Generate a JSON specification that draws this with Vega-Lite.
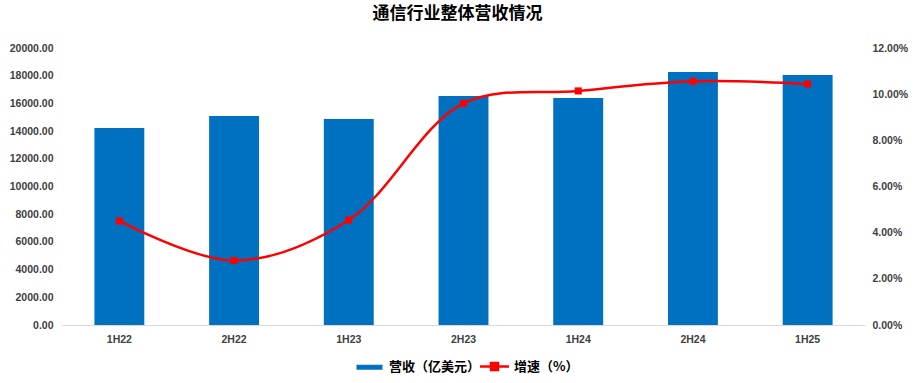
{
  "$schema": "https://vega.github.io/schema/vega-lite/v6.json",
  "autosize": {"type": "none"},
  "width": 803,
  "height": 277,
  "padding": {"left": 62, "top": 48, "right": 50, "bottom": 58},
  "background": "white",
  "title": {
    "text": "通信行业整体营收情况",
    "font": "Noto Sans CJK SC",
    "fontSize": 17,
    "fontWeight": "bold",
    "color": "#000000",
    "anchor": "middle",
    "dx": -6,
    "offset": 20
  },
  "config": {
    "view": {"stroke": null},
    "axis": {"labelFont": "Liberation Sans", "labelFontSize": 10.5, "labelFontWeight": "bold", "labelColor": "#404040", "grid": false, "ticks": false, "title": null}
  },
  "data": {
    "values": [
      {"period": "1H22", "revenue": 14220, "growth": 0.0451},
      {"period": "2H22", "revenue": 15090, "growth": 0.0279},
      {"period": "1H23", "revenue": 14870, "growth": 0.0455},
      {"period": "2H23", "revenue": 16530, "growth": 0.0960},
      {"period": "1H24", "revenue": 16390, "growth": 0.1014},
      {"period": "2H24", "revenue": 18270, "growth": 0.1056},
      {"period": "1H25", "revenue": 18050, "growth": 0.1044}
    ]
  },
  "encoding": {
    "x": {
      "field": "period",
      "type": "nominal",
      "sort": null,
      "scale": {"paddingInner": 0.565, "paddingOuter": 0.2825},
      "axis": {"labelAngle": 0, "domainColor": "#d9d9d9", "domainWidth": 1, "labelPadding": 9}
    }
  },
  "layer": [
    {
      "mark": {"type": "bar", "color": "#0070C0"},
      "encoding": {
        "y": {
          "field": "revenue",
          "type": "quantitative",
          "scale": {"domain": [0, 20000], "nice": false},
          "axis": {"orient": "left", "values": [0, 2000, 4000, 6000, 8000, 10000, 12000, 14000, 16000, 18000, 20000], "format": ".2f", "domain": false, "labelPadding": 9}
        },
        "color": {
          "datum": "营收（亿美元）",
          "scale": {"domain": ["营收（亿美元）", "增速（%）"], "range": ["#0070C0", "#FF0000"]},
          "legend": {
            "title": null,
            "orient": "none",
            "legendX": 301,
            "legendY": 312,
            "direction": "horizontal",
            "labelFont": "Noto Sans CJK SC",
            "labelFontSize": 13,
            "labelFontWeight": "bold",
            "labelColor": "#000000",
            "symbolSize": 100,
            "columnPadding": -6,
            "labelOffset": 13,
            "encode": {
              "symbols": {
                "update": {
                  "shape": {"signal": "datum.label === '营收（亿美元）' ? 'M-2.6,-0.5H2.6V0.5H-2.6Z' : 'M-2.9,0H2.9M-0.7,-0.7H0.7V0.7H-0.7Z'"},
                  "fill": {"signal": "datum.label === '营收（亿美元）' ? '#0070C0' : '#FF0000'"},
                  "stroke": {"signal": "datum.label === '营收（亿美元）' ? '#0070C0' : '#FF0000'"},
                  "strokeWidth": {"signal": "datum.label === '营收（亿美元）' ? 0 : 2.5"},
                  "opacity": {"value": 1},
                  "fillOpacity": {"value": 1}
                }
              }
            }
          }
        }
      }
    },
    {
      "layer": [
        {
          "mark": {"type": "line", "color": "#E60000", "strokeWidth": 2.5, "interpolate": "catmull-rom"},
          "encoding": {
            "y": {
              "field": "growth",
              "type": "quantitative",
              "scale": {"domain": [0, 0.12], "nice": false},
              "axis": {"orient": "right", "values": [0, 0.02, 0.04, 0.06, 0.08, 0.1, 0.12], "format": ".2%", "domain": false, "labelPadding": 7}
            },
            "color": {"datum": "增速（%）"}
          }
        },
        {
          "mark": {"type": "point", "shape": "square", "filled": true, "size": 50, "color": "#FF0000", "opacity": 1},
          "encoding": {
            "y": {"field": "growth", "type": "quantitative"}
          }
        }
      ]
    }
  ],
  "resolve": {"scale": {"y": "independent"}}
}
